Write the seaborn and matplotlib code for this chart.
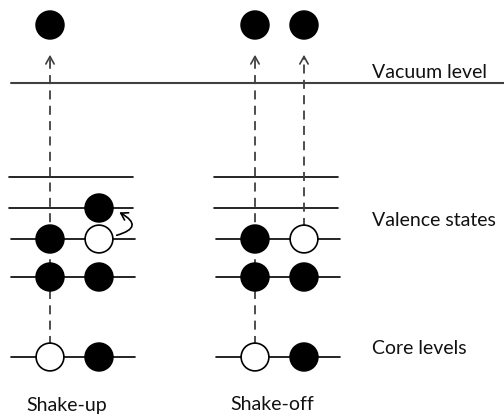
import matplotlib
matplotlib.use("Agg")
import matplotlib.pyplot as plt
import pandas as pd
import seaborn as sns

sns.set_theme(style="white")
plt.rcParams['font.family'] = ['Lato', 'DejaVu Sans']

# diagram data in pixel units (y grows downward)
panel_names = ["Shake-up", "Shake-off"]
panel_x0 = [50, 255]          # first electron column per panel
column_gap = 49
level_y = [177, 208, 239, 277, 357]
vacuum_y = 83

# electrons: panel, column, level y, filled
elec_panel = [0, 0, 0, 0, 0, 0, 0, 0,
              1, 1, 1, 1, 1, 1, 1, 1]
elec_col = [0, 1, 0, 1, 0, 1, 0, 1,
            0, 1, 0, 1, 0, 1, 0, 1]
elec_y = [25, 208, 239, 239, 277, 277, 357, 357,
          25, 25, 239, 239, 277, 277, 357, 357]
elec_filled = [True, True, True, False, True, True, False, True,
               True, True, True, False, True, True, False, True]

# dashed excitation paths: panel, column, lower end y
path_panel = [0, 1, 1]
path_col = [0, 0, 1]
path_bottom = [345, 345, 227]

side_labels = ["Vacuum level", "Valence states", "Core levels"]
side_y = [72, 220, 348]

df = pd.DataFrame({
    "x": [panel_x0[p] + c * column_gap for p, c in zip(elec_panel, elec_col)],
    "y": elec_y,
    "state": ["filled" if f else "hole" for f in elec_filled],
})

fig = plt.figure(figsize=(5.04, 4.17), dpi=100)
ax = fig.add_axes([0, 0, 1, 1])
ax.set_xlim(0, 504)
ax.set_ylim(417, 0)
ax.axis("off")

# energy levels
for x0 in panel_x0:
    for i, y in enumerate(level_y):
        shift = 0 if i < 2 else 2
        ax.plot([x0 - 41 + shift, x0 + 83 + shift], [y, y], color="black", lw=1.2, zorder=1)
ax.plot([11, 504], [vacuum_y, vacuum_y], color="#404040", lw=1.5, zorder=1)

# dashed paths with open arrowheads
for p, c, yb in zip(path_panel, path_col, path_bottom):
    x = panel_x0[p] + c * column_gap
    ax.plot([x, x], [yb, 58], color="#404040", lw=1.3, ls=(0, (5, 3.5)), zorder=1)
    ax.annotate("", xy=(x, 52), xytext=(x, 62),
                arrowprops=dict(arrowstyle="->,head_width=0.25,head_length=0.45",
                                color="#404040", lw=1.2))

sns.scatterplot(data=df, x="x", y="y", hue="state",
                palette={"filled": "black", "hole": "white"},
                edgecolor="black", linewidth=1.2, s=400, legend=False,
                ax=ax, zorder=3)

# shake-up transition arrow
ax.annotate("", xy=(117, 211), xytext=(114, 236),
            arrowprops=dict(arrowstyle="->,head_width=0.25,head_length=0.4",
                            connectionstyle="arc3,rad=1.3", color="black", lw=1.2))

for lab, y in zip(side_labels, side_y):
    ax.text(372, y, lab, fontsize=14, va="center", ha="left", color="#111111")
for x0, name in zip(panel_x0, panel_names):
    ax.text(x0 + 17, 405, name, fontsize=14, va="center", ha="center", color="#111111")

fig.savefig("out.png", dpi=100)
